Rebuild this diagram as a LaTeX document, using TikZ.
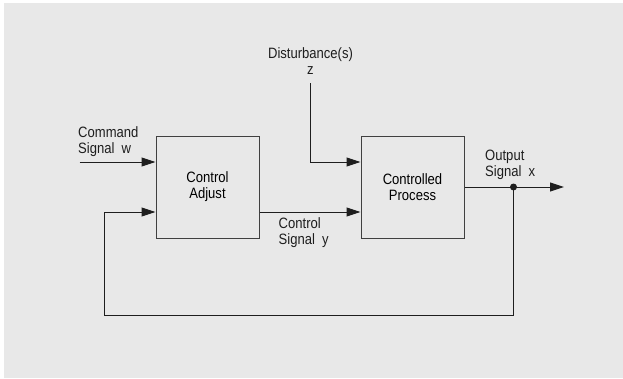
\documentclass[tikz,border=0pt]{standalone}
\usepackage{fontspec}
\newfontfamily\diagfont{Liberation Sans}[FakeStretch=0.87]
\usetikzlibrary{arrows.meta, positioning, calc}
\definecolor{panel}{RGB}{232, 232, 232}
\definecolor{ink}{RGB}{30, 30, 30}

\begin{document}
\begin{tikzpicture}[
            x=1pt, y=-1pt,
            font=\diagfont\fontsize{15}{16}\selectfont,
            blockbox/.style={draw=ink!85, line width=1pt, minimum width=103pt, minimum height=102pt, align=center, inner sep=0pt},
            lbl/.style={align=left, inner sep=0pt, anchor=north west, text=ink},
            sig/.style={-{Triangle[length=14pt, width=9pt]}, line width=1pt, draw=ink}
        ]
            % Background panel
            \useasboundingbox (0,0) rectangle (623,378);
            \fill[white] (0,0) rectangle (623,378);
            \fill[panel] (4,3) rectangle (623,378);
            
            % Main blocks
            \node[blockbox] (adjust) at (207.5,187) {Control\\Adjust};
            \node[blockbox, right=101pt of adjust] (process) {Controlled\\Process};
            
            % Free ends of the signals
            \coordinate (cmd) at (79.5,162);
            \coordinate (dist) at (310,83);
            \coordinate (jn) at (513.5,187);
            \coordinate (out) at (564,187);
            \coordinate (fbl) at (104.5,315);
            
            \draw[sig] (cmd) -- ($(adjust.west)+(0,-25)$);
            \draw[sig] ($(adjust.east)+(0,25)$) -- ($(process.west)+(0,25)$);
            \draw[sig] (dist) |- ($(process.west)+(0,-25)$);
            \draw[sig] (process.east) -- (out);
            \draw[sig] (jn) |- (fbl) |- ($(adjust.west)+(0,25)$);
            \fill[ink] (jn) circle (3.5pt);
            
            % Labels
            \node[lbl] (cmdlbl) at (78,126) {Command\\Signal\ \ w};
            \node[lbl, align=center, anchor=north] (distlbl) at (310.5,47) {Disturbance(s)\\z};
            \node[lbl] (ylbl) at (278.5,217.5) {Control\\Signal\ \ y};
            \node[lbl] (xlbl) at (485,150) {Output\\Signal\ \ x};
            
        \end{tikzpicture}
\end{document}
